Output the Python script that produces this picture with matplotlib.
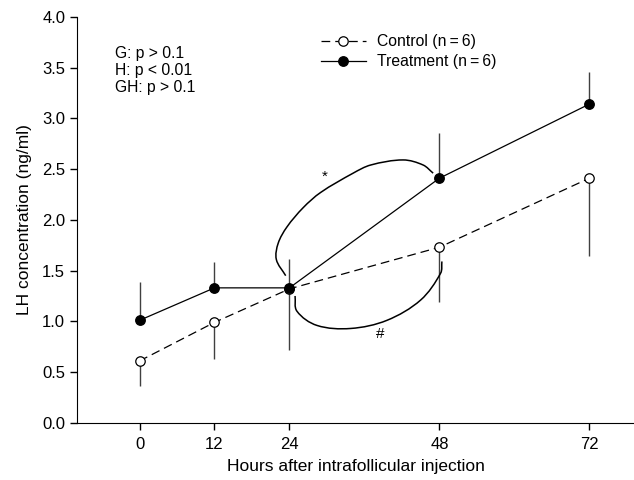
import numpy as np
import matplotlib
matplotlib.use("Agg")
import matplotlib.pyplot as plt
from matplotlib.path import Path
from matplotlib.patches import PathPatch

plt.rcParams['font.family'] = ['Liberation Sans', 'DejaVu Sans']

hours = [0, 12, 24, 48, 72]
control = [0.61, 0.99, 1.32, 1.73, 2.41]
control_low = [0.36, 0.63, 0.72, 1.19, 1.64]
treatment = [1.01, 1.33, 1.33, 2.41, 3.14]
treatment_high = [1.39, 1.58, 1.61, 2.86, 3.46]

# loops marking significant change (* treatment, # control)
star_loop = [(23.4, 1.45), (21.9, 1.61), (22.2, 1.77), (23.6, 1.93), (26.2, 2.12),
             (29.0, 2.27), (34.2, 2.46), (37.0, 2.54), (42.2, 2.59), (45.4, 2.54),
             (47.0, 2.46)]
hash_loop = [(24.9, 1.25), (25.2, 1.10), (28.4, 0.96), (33.8, 0.93), (39.6, 1.01),
             (45.0, 1.21), (48.2, 1.475), (48.4, 1.59)]

stats_text = "G: p > 0.1\nH: p < 0.01\nGH: p > 0.1"


def smooth_path(ax, pts):
    # smooth Bezier curve through the points, built in screen space
    tr = ax.transData
    p = tr.transform(np.array(pts, dtype=float))
    n = len(p)
    tang = np.zeros_like(p)
    for i in range(n):
        a = p[max(i - 1, 0)]
        b = p[min(i + 1, n - 1)]
        d = b - a
        tang[i] = d / np.hypot(*d)
    verts = [p[0]]
    codes = [Path.MOVETO]
    for i in range(n - 1):
        L = np.hypot(*(p[i + 1] - p[i])) / 3
        verts += [p[i] + tang[i] * L, p[i + 1] - tang[i + 1] * L, p[i + 1]]
        codes += [Path.CURVE4] * 3
    verts = tr.inverted().transform(np.array(verts))
    return Path(verts, codes)


fig = plt.figure(figsize=(6.34, 4.8), dpi=100)
ax = fig.add_axes([0.1215, 0.119, 0.879, 0.846])
ax.set_xlim(-10, 79.2)
ax.set_ylim(0, 4.0)

x = np.array(hours)
c = np.array(control)
t = np.array(treatment)

ax.errorbar(x, c, yerr=[c - np.array(control_low), np.zeros(5)], fmt='none',
            ecolor='0.25', elinewidth=1.0, capsize=0, zorder=1)
ax.errorbar(x, t, yerr=[np.zeros(5), np.array(treatment_high) - t], fmt='none',
            ecolor='0.25', elinewidth=1.0, capsize=0, zorder=1)

ax.plot(x, c, color='black', lw=0.9, dashes=(7, 4), marker='o', ms=6.8,
        mfc='white', mec='black', mew=0.9, label='Control (n\u2009=\u20096)', zorder=3)
ax.plot(x, t, color='black', lw=0.9, marker='o', ms=6.8,
        mfc='black', mec='black', label='Treatment (n\u2009=\u20096)', zorder=3)

ax.set_xlim(-10, 79.2)
ax.set_ylim(0, 4.0)
for pts in (star_loop, hash_loop):
    ax.add_patch(PathPatch(smooth_path(ax, pts), fill=False, lw=1.1, ec='black', zorder=2))

ax.text(29.7, 2.42, '*', fontsize=11, ha='center', va='center')
ax.text(38.6, 0.88, '#', fontsize=11, ha='center', va='center')
ax.text(-3.9, 3.47, stats_text, fontsize=11.3, ha='left', va='center', linespacing=1.18)

ax.set_xticks(hours)
ax.set_yticks(np.arange(0, 4.01, 0.5))
ax.set_yticklabels([f'{v:.1f}' for v in np.arange(0, 4.01, 0.5)])
ax.tick_params(labelsize=12, direction='out', length=5, width=1)
ax.tick_params(axis='x', pad=5)
for s in ('top', 'right'):
    ax.spines[s].set_visible(False)

ax.set_xlabel('Hours after intrafollicular injection', fontsize=12.5, labelpad=5)
ax.set_ylabel('LH concentration (ng/ml)', fontsize=12.5, labelpad=7)

ax.legend(loc='upper left', bbox_to_anchor=(0.426, 0.972), frameon=False, fontsize=11.3,
          handlelength=2.87, handletextpad=0.7, labelspacing=0.3, borderaxespad=0)

fig.savefig('out.png', dpi=100)
